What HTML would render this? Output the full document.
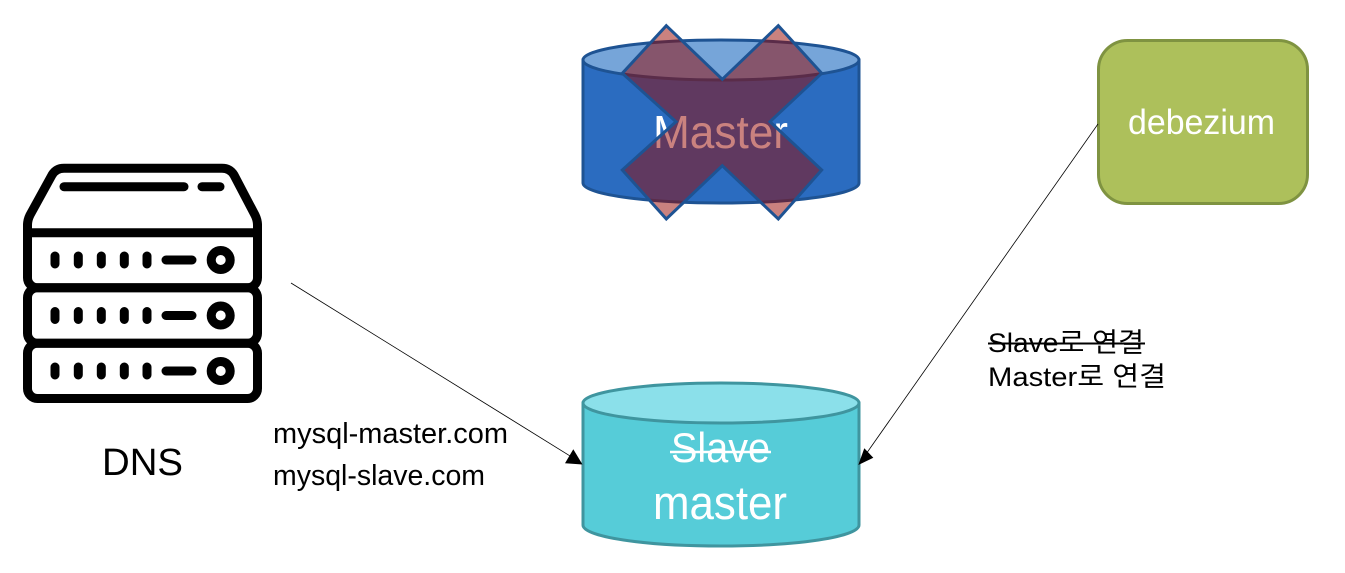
<!DOCTYPE html>
<html><head><meta charset="utf-8"><style>html,body{margin:0;padding:0;background:#fff}svg{display:block}text{font-family:"Liberation Sans","Noto Sans CJK KR",sans-serif}</style></head>
<body>
<svg width="1345" height="573" viewBox="0 0 1345 573" xmlns="http://www.w3.org/2000/svg">
<!-- Master cylinder -->
<path d="M583 60V183C583 194 645 203 721 203S859 194 859 183V60Z" fill="#2b6cc0" stroke="#1e5393" stroke-width="3"/>
<ellipse cx="721" cy="60" rx="138" ry="20" fill="#76a5d9" stroke="#1e5393" stroke-width="3"/>
<text x="653" y="148" font-size="46" fill="#fff" textLength="135" lengthAdjust="spacingAndGlyphs">Master</text>
<polygon points="666.3,25.7 722.3,79.3 778.3,25.7 821.7,73.3 770,121.7 821.7,170 778.3,219 722.3,165.7 666.3,219 622.3,170 676,121.7 622.3,73.3" fill="rgb(150,5,0)" fill-opacity="0.5" stroke="#1e5393" stroke-width="3" stroke-linejoin="miter"/>
<!-- debezium -->
<rect x="1098.5" y="40.5" width="209" height="163" rx="29" fill="#adc05b" stroke="#7f9341" stroke-width="3"/>
<text x="1128" y="134" font-size="35" fill="#fff" textLength="147" lengthAdjust="spacingAndGlyphs">debezium</text>
<!-- Slave cylinder -->
<path d="M583 403V525C583 537 645 546 721 546S859 537 859 525V403Z" fill="#56ccd8" stroke="#3f959f" stroke-width="3"/>
<ellipse cx="721" cy="403" rx="138" ry="20" fill="#8be0ea" stroke="#3f959f" stroke-width="3"/>
<text x="671" y="462" font-size="42" fill="#fff" textLength="99" lengthAdjust="spacingAndGlyphs">Slave</text>
<line x1="670" y1="452" x2="771" y2="452" stroke="#fff" stroke-width="2.5"/>
<text x="653" y="519" font-size="47" fill="#fff" textLength="134" lengthAdjust="spacingAndGlyphs">master</text>
<!-- Server icon -->
<g fill="none" stroke="#000" stroke-width="9" stroke-linecap="round" stroke-linejoin="round">
<path d="M27.5 232.7V225C27.5 221 28.5 218 30 215L52 175C55 170 59 168.3 64 168.3H222C227 168.3 231 170 234 175L255 215C256.5 218 257.5 221 257.5 225V232.7Z"/>
<line x1="64" y1="186.7" x2="184" y2="186.7"/>
<line x1="202" y1="186.7" x2="220" y2="186.7"/>
<path d="M27.5 225V277.7a10 10 0 0 0 10 10H247.5a10 10 0 0 0 10-10V225"/>
<path d="M55 256V264M78.3 256V264M101.3 256V264M124.3 256V264M147 256V264M166 260H192"/>
<circle cx="220.7" cy="260" r="9.5"/>
<rect x="27.5" y="287.7" width="230" height="55.5" rx="10"/>
<path d="M55 311.5V319.5M78.3 311.5V319.5M101.3 311.5V319.5M124.3 311.5V319.5M147 311.5V319.5M166 315.5H192"/>
<circle cx="220.7" cy="315.5" r="9.5"/>
<rect x="27.5" y="343.2" width="230" height="55.3" rx="10"/>
<path d="M55 367V375M78.3 367V375M101.3 367V375M124.3 367V375M147 367V375M166 371H192"/>
<circle cx="220.7" cy="371" r="9.5"/>
</g>
<!-- Connectors -->
<line x1="291" y1="283" x2="572" y2="457.2" stroke="#000" stroke-width="0.8"/>
<polygon points="582.5,464.5 573.3,449.3 565,463.3" fill="#000"/>
<line x1="1098" y1="124" x2="867" y2="452.6" stroke="#000" stroke-width="0.8"/>
<polygon points="858.3,465 873.3,457.7 864.3,448.3" fill="#000"/>
<!-- Labels -->
<text x="102" y="475" font-size="38" fill="#000" textLength="81" lengthAdjust="spacingAndGlyphs">DNS</text>
<text x="273" y="443" font-size="29" fill="#000" textLength="235" lengthAdjust="spacingAndGlyphs">mysql-master.com</text>
<text x="273" y="485" font-size="29" fill="#000" textLength="212" lengthAdjust="spacingAndGlyphs">mysql-slave.com</text>
<text x="988" y="352" font-size="27" fill="#000" textLength="156" lengthAdjust="spacingAndGlyphs">Slave로 연결</text>
<line x1="988" y1="343.5" x2="1145" y2="343.5" stroke="#000" stroke-width="2"/>
<text x="988" y="386" font-size="27" fill="#000" textLength="178" lengthAdjust="spacingAndGlyphs">Master로 연결</text>
</svg>
</body></html>
